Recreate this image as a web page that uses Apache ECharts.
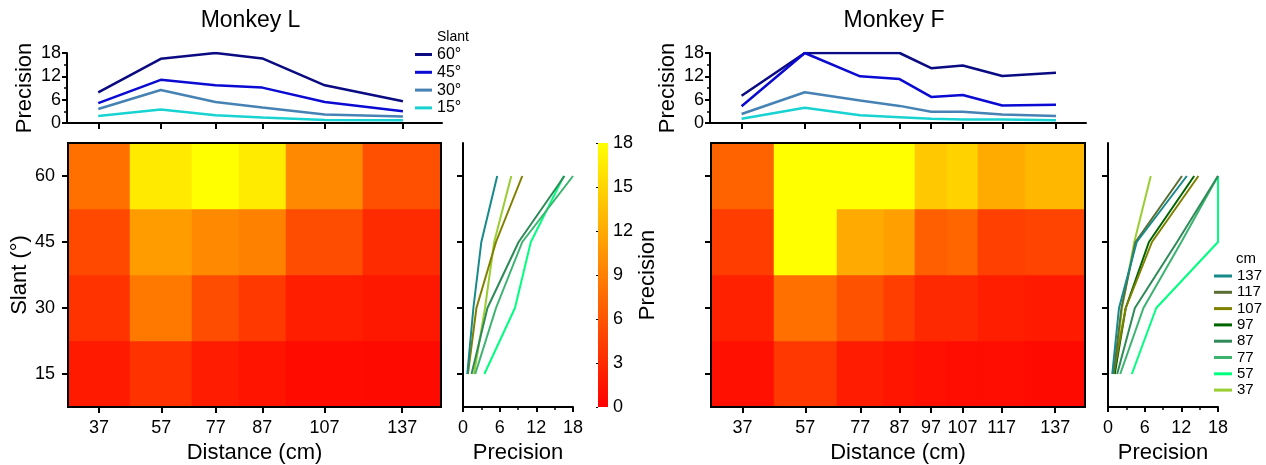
<!DOCTYPE html>
<html><head><meta charset="utf-8">
<script src="https://cdn.jsdelivr.net/npm/echarts@6/dist/echarts.min.js"></script>
<style>html,body{margin:0;padding:0;background:#fff}#c{width:1266px;height:465px}</style>
</head><body><div id="c"></div>
<script>
// ---------- data ----------
const slants = [15, 30, 45, 60];
const slantNames = ['15°', '30°', '45°', '60°'];
const distL = [37, 57, 77, 87, 107, 137];
const distF = [37, 57, 77, 87, 97, 107, 117, 137];
// Monkey L precision (one array per slant, ordered as distL)
const precL15 = [1.8, 3.5, 2.0, 1.4, 0.8, 0.7];
const precL30 = [3.6, 8.5, 5.4, 4.0, 2.2, 1.7];
const precL45 = [5.1, 11.1, 9.7, 9.1, 5.4, 3.0];
const precL60 = [7.9, 16.5, 18.0, 16.6, 9.7, 5.6];
// Monkey F precision (one array per slant, ordered as distF)
const precF15 = [1.1, 3.9, 2.0, 1.5, 1.1, 0.9, 0.9, 0.7];
const precF30 = [2.3, 7.9, 5.8, 4.4, 2.9, 2.9, 2.2, 1.8];
const precF45 = [4.3, 18.0, 12.0, 11.3, 6.7, 7.2, 4.5, 4.7];
const precF60 = [7.0, 18.0, 18.0, 18.0, 14.1, 14.8, 12.1, 12.9];
const colorTicks = [0, 3, 6, 9, 12, 15, 18];
const legendDists = ['137', '117', '107', '97', '87', '77', '57', '37'];

// ---------- styles ----------
const FONT = "'Liberation Sans', Arial, sans-serif";
const slantColors = {'60°': '#0a0a82', '45°': '#0a0ad2', '30°': '#4682b4', '15°': '#19d2d2'};
const distColors = {137: '#168a8a', 117: '#5a6e32', 107: '#808000', 97: '#006400', 87: '#2e8b57', 77: '#3cb371', 57: '#00ff7f', 37: '#9acd32'};
const PMAX = 18;
function autumn(v) { const g = Math.round(Math.max(0, Math.min(1, v / PMAX)) * 255); return 'rgb(255,' + g + ',0)'; }

const panels = [
  {dist: distL, prec: [precL15, precL30, precL45, precL60], xMin: 27, xMax: 147, left: 68, width: 373, sideLeft: 463, showYLabels: true, title: 'Monkey L'},
  {dist: distF, prec: [precF15, precF30, precF45, precF60], xMin: 27, xMax: 146, left: 711, width: 374, sideLeft: 1108, showYLabels: false, title: 'Monkey F'}
];

const grid = [], xAxis = [], yAxis = [], series = [], graphic = [];
const TOP_T = 53, TOP_H = 70, HM_T = 143, HM_H = 264;
const axisLineStyle = {color: '#000', width: 2};
const labelStyle = {color: '#000', fontSize: 18, fontFamily: FONT};
const nameStyle = {color: '#000', fontSize: 22, fontFamily: FONT};
const OB = {outerBoundsMode: 'none', containLabel: false};

panels.forEach((p, k) => {
  const n = p.dist.length;
  const edges = [p.xMin];
  for (let i = 0; i < n - 1; i++) edges.push((p.dist[i] + p.dist[i + 1]) / 2);
  edges.push(p.xMax);
  const centers = p.dist.map((d, i) => (edges[i] + edges[i + 1]) / 2);
  const fmt = v => { let b = 0; centers.forEach((c, i) => { if (Math.abs(c - v) < Math.abs(centers[b] - v)) b = i; }); return String(p.dist[b]); };
  const g0 = grid.length;
  // top line plot
  grid.push(Object.assign({left: p.left - 1, top: TOP_T, width: p.width + 2, height: TOP_H}, OB));
  xAxis.push({type: 'value', gridIndex: g0, min: p.xMin, max: p.xMax,
    axisLine: {show: true, lineStyle: axisLineStyle},
    axisTick: {show: true, customValues: centers, length: 6, lineStyle: {color: '#000', width: 2}},
    axisLabel: {show: false}, splitLine: {show: false}});
  yAxis.push({type: 'value', gridIndex: g0, min: 0, max: PMAX, interval: 6,
    axisLine: {show: true, lineStyle: axisLineStyle},
    axisTick: {show: true, length: 5, lineStyle: {color: '#000', width: 2}},
    minorTick: {show: true, splitNumber: 2, length: 3, lineStyle: {color: '#000', width: 1.5}},
    axisLabel: Object.assign({margin: 6}, labelStyle), splitLine: {show: false},
    name: 'Precision', nameLocation: 'middle', nameGap: 31, nameTextStyle: nameStyle});
  [3, 2, 1, 0].forEach(s => {
    series.push({type: 'line', name: slantNames[s], xAxisIndex: g0, yAxisIndex: g0,
      data: p.dist.map((d, i) => [centers[i], p.prec[s][i]]), showSymbol: false, silent: true,
      color: slantColors[slantNames[s]], lineStyle: {width: 2.5, color: slantColors[slantNames[s]]},
      itemStyle: {color: slantColors[slantNames[s]]}});
  });
  // heatmap
  grid.push(Object.assign({left: p.left, top: HM_T, width: p.width, height: HM_H, show: true, borderColor: '#000', borderWidth: 2, backgroundColor: 'transparent', z: 6}, OB));
  xAxis.push({type: 'value', gridIndex: g0 + 1, min: p.xMin, max: p.xMax, z: 6,
    axisLine: {show: true, lineStyle: axisLineStyle},
    axisTick: {show: true, customValues: centers, length: 6, lineStyle: {color: '#000', width: 2}},
    axisLabel: Object.assign({customValues: centers, formatter: fmt, margin: 12}, labelStyle),
    splitLine: {show: false},
    name: 'Distance (cm)', nameLocation: 'middle', nameGap: 34, nameTextStyle: nameStyle});
  yAxis.push({type: 'value', gridIndex: g0 + 1, min: 7.5, max: 67.5, z: 6,
    axisLine: {show: true, lineStyle: axisLineStyle},
    axisTick: {show: true, customValues: slants, length: 6, lineStyle: {color: '#000', width: 2}},
    axisLabel: Object.assign({show: p.showYLabels, customValues: slants, margin: 13}, labelStyle),
    splitLine: {show: false},
    name: p.showYLabels ? 'Slant (°)' : '', nameLocation: 'middle', nameGap: 33, nameTextStyle: nameStyle});
  const cells = [];
  slants.forEach((s, j) => p.dist.forEach((d, i) => cells.push([centers[i], s, p.prec[j][i], i])));
  series.push({type: 'custom', xAxisIndex: g0 + 1, yAxisIndex: g0 + 1, z: 1, silent: true, data: cells,
    renderItem: (params, api) => {
      const i = api.value(3), s = api.value(1), v = api.value(2);
      const a = api.coord([edges[i], s + 7.5]), b = api.coord([edges[i + 1], s - 7.5]);
      const x0 = Math.round(a[0]), y0 = Math.round(a[1]), x1 = Math.round(b[0]), y1 = Math.round(b[1]);
      return {type: 'rect', shape: {x: x0, y: y0, width: x1 - x0, height: y1 - y0}, style: {fill: autumn(v), stroke: autumn(v), lineWidth: 0.5}};
    }});
  // side plot
  grid.push(Object.assign({left: p.sideLeft, top: HM_T, width: 110, height: HM_H}, OB));
  xAxis.push({type: 'value', gridIndex: g0 + 2, min: 0, max: PMAX, interval: 6,
    axisLine: {show: true, lineStyle: axisLineStyle},
    axisTick: {show: true, length: 5, lineStyle: {color: '#000', width: 2}},
    minorTick: {show: true, splitNumber: 2, length: 3, lineStyle: {color: '#000', width: 1.5}},
    axisLabel: Object.assign({margin: 12}, labelStyle), splitLine: {show: false},
    name: 'Precision', nameLocation: 'middle', nameGap: 34, nameTextStyle: nameStyle});
  yAxis.push({type: 'value', gridIndex: g0 + 2, min: 7.5, max: 67.5,
    axisLine: {show: true, lineStyle: axisLineStyle},
    axisTick: {show: true, customValues: slants, length: 6, lineStyle: {color: '#000', width: 2}},
    axisLabel: {show: false}, splitLine: {show: false}});
  p.dist.forEach((d, i) => {
    series.push({type: 'line', name: String(d), xAxisIndex: g0 + 2, yAxisIndex: g0 + 2,
      data: slants.map((s, j) => [p.prec[j][i], s]), showSymbol: false, silent: true,
      color: distColors[d], lineStyle: {width: 2, color: distColors[d]}, itemStyle: {color: distColors[d]}});
  });
  graphic.push({type: 'text', x: p.left + p.width / 2 - 4, y: 21, style: {text: p.title, font: '23px ' + FONT, fill: '#000', textAlign: 'center', textVerticalAlign: 'middle'}});
});

// colorbar
const gc = grid.length;
grid.push(Object.assign({left: 598, top: HM_T, width: 10, height: HM_H}, OB));
xAxis.push({type: 'value', gridIndex: gc, min: 0, max: 1, show: false});
yAxis.push({type: 'value', gridIndex: gc, position: 'right', min: 0, max: PMAX, interval: 3,
  axisLine: {show: false}, axisTick: {show: true, inside: true, length: 2, lineStyle: {color: '#000'}},
  axisLabel: Object.assign({margin: 5}, labelStyle), splitLine: {show: false},
  name: 'Precision', nameLocation: 'middle', nameRotate: 90, nameGap: 22, nameTextStyle: nameStyle});
series.push({type: 'custom', xAxisIndex: gc, yAxisIndex: gc, silent: true, data: [[0.5, PMAX / 2]],
  renderItem: (params, api) => {
    const a = api.coord([0, PMAX]), b = api.coord([1, 0]);
    return {type: 'rect', shape: {x: a[0], y: a[1], width: b[0] - a[0], height: b[1] - a[1]},
      style: {fill: new echarts.graphic.LinearGradient(0, 1, 0, 0, [{offset: 0, color: autumn(0)}, {offset: 1, color: autumn(PMAX)}])}};
  }});

graphic.push({type: 'text', x: 437, y: 37, style: {text: 'Slant', font: '14px ' + FONT, fill: '#000', textVerticalAlign: 'middle'}});
graphic.push({type: 'text', x: 1236, y: 259, style: {text: 'cm', font: '15px ' + FONT, fill: '#000', textVerticalAlign: 'middle'}});

const chart = echarts.init(document.getElementById('c'), null, {renderer: 'canvas'});
chart.setOption({
  animation: false,
  backgroundColor: '#fff',
  textStyle: {fontFamily: FONT},
  grid, xAxis, yAxis, series, graphic,
  legend: [
    {data: ['60°', '45°', '30°', '15°'], orient: 'vertical', left: 415, top: 46.5, padding: 0, icon: 'rect', itemWidth: 17, itemHeight: 3, itemGap: 1.8,
      textStyle: {fontSize: 16, lineHeight: 15, color: '#000', fontFamily: FONT}, selectedMode: false},
    {data: legendDists, orient: 'vertical', left: 1214, top: 268.5, padding: 0, icon: 'rect', itemWidth: 18, itemHeight: 3, itemGap: 1.3,
      textStyle: {fontSize: 15, lineHeight: 15, color: '#000', fontFamily: FONT}, selectedMode: false}
  ]
});
</script></body></html>
